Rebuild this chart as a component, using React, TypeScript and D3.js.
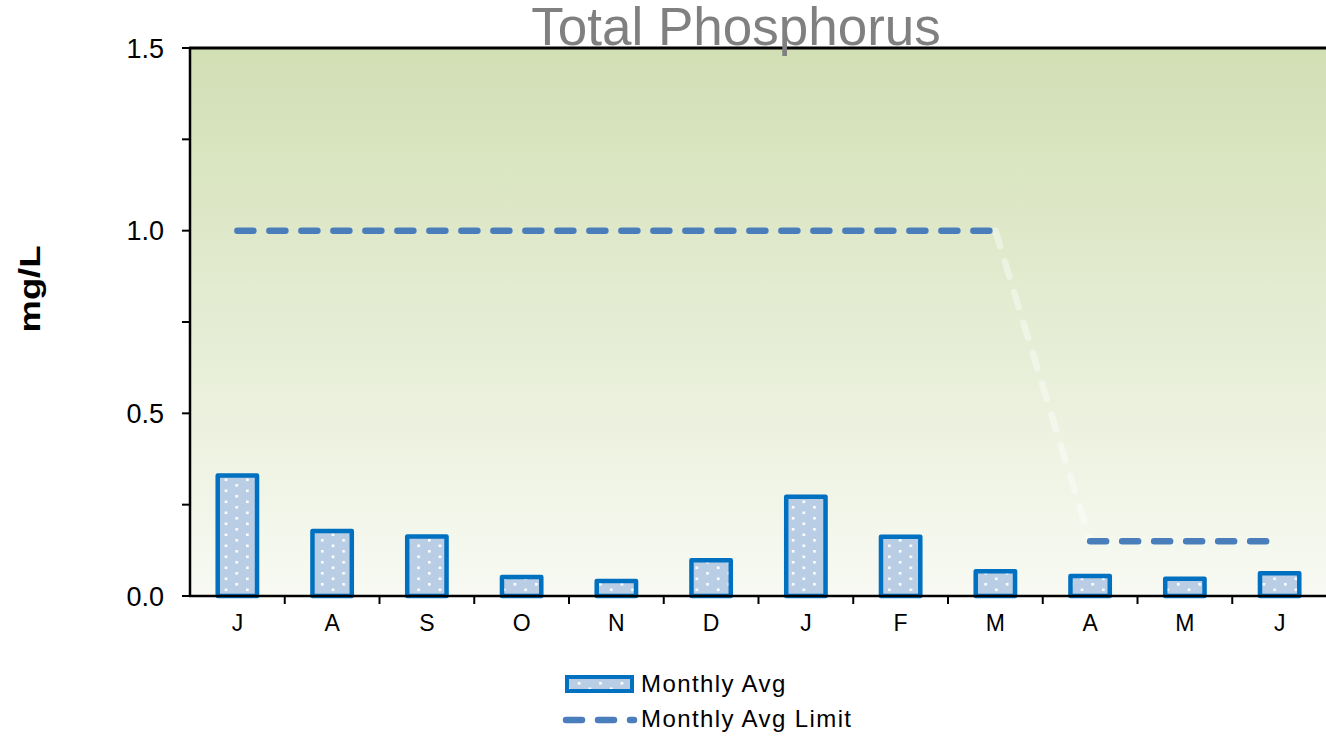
import React, { useEffect } from "react";
import * as d3 from "d3";

const months = ["J", "A", "S", "O", "N", "D", "J", "F", "M", "A", "M", "J"];
const monthlyAvg = [0.33, 0.178, 0.163, 0.052, 0.041, 0.098, 0.272, 0.162, 0.068, 0.055, 0.047, 0.062];
const monthlyLimit = [1, 1, 1, 1, 1, 1, 1, 1, 1, 0.15, 0.15, 0.15];
const yTicks = [0, 0.25, 0.5, 0.75, 1, 1.25, 1.5];
const yLabels = [0, 0.5, 1, 1.5];

const W = 1326;
const H = 736;
const M = { left: 190, top: 48, right: 1327, bottom: 596 };

export default function App() {
  useEffect(() => {
    document.body.style.margin = "0";
  }, []);

  const x = d3.scaleBand<number>().domain(months.map((_, i) => i)).range([M.left, M.right]).paddingInner(0).paddingOuter(0);
  const y = d3.scaleLinear().domain([0, 1.5]).range([M.bottom, M.top]);
  const bw = x.bandwidth();
  const cx = (i: number) => (x(i) as number) + bw / 2;
  const barW = bw * 0.415;

  const seg = (idx: number[]) =>
    d3
      .line<number>()
      .x((i) => cx(i))
      .y((i) => y(monthlyLimit[i]))(idx) as string;

  const upperIdx = monthlyLimit.map((_, i) => i).filter((i) => monthlyLimit[i] === monthlyLimit[0]);
  const lowerIdx = monthlyLimit.map((_, i) => i).filter((i) => i > upperIdx[upperIdx.length - 1]);
  const transIdx = [upperIdx[upperIdx.length - 1], lowerIdx[0]];

  const lineColor = "#4a7ebb";
  const font = "Arial, 'Liberation Sans', sans-serif";

  return (
    <svg width={W} height={H} style={{ display: "block", fontFamily: font }}>
      <defs>
        <linearGradient id="bg" x1="0" y1="0" x2="0" y2="1">
          <stop offset="0%" stopColor="#d2dfb4" />
          <stop offset="100%" stopColor="#f8faf3" />
        </linearGradient>
        <pattern id="dots" width={21.4} height={11} patternUnits="userSpaceOnUse">
          <rect width={21.4} height={11} fill="#b9cde5" />
          <rect x={0} y={0} width={2.6} height={2.6} fill="#ffffff" />
          <rect x={10.7} y={5.5} width={2.6} height={2.6} fill="#ffffff" />
        </pattern>
      </defs>
      <rect x={M.left} y={M.top} width={M.right - M.left} height={M.bottom - M.top} fill="url(#bg)" />

      {/* bars */}
      {monthlyAvg.map((v, i) => (
        <rect
          key={i}
          x={cx(i) - barW / 2}
          y={y(v)}
          width={barW}
          height={M.bottom - y(v)}
          fill="url(#dots)"
          stroke="#0070c0"
          strokeWidth={4.5}
          strokeLinejoin="round"
        />
      ))}

      {/* limit line */}
      <path d={seg(transIdx)} fill="none" stroke="#ffffff" strokeOpacity={0.4} strokeWidth={6.5} strokeDasharray="16,16" strokeLinecap="round" />
      <path d={seg(upperIdx)} fill="none" stroke={lineColor} strokeWidth={6.5} strokeDasharray="16,16" strokeLinecap="round" />
      <path d={seg(lowerIdx)} fill="none" stroke={lineColor} strokeWidth={6.5} strokeDasharray="16,16" strokeLinecap="round" />

      {/* axes */}
      <line x1={M.left} x2={M.left} y1={M.top} y2={M.bottom} stroke="#000" strokeWidth={2.5} />
      <line x1={M.left - 1} x2={W} y1={M.bottom} y2={M.bottom} stroke="#000" strokeWidth={2.5} />
      <line x1={M.left - 1} x2={W} y1={M.top} y2={M.top} stroke="#000" strokeWidth={3} />
      {yTicks.map((t) => (
        <line key={t} x1={M.left - 8} x2={M.left} y1={y(t)} y2={y(t)} stroke="#000" strokeWidth={2} />
      ))}
      {yLabels.map((t) => (
        <text key={t} x={164} y={y(t)} dy="0.36em" textAnchor="end" fontSize={27} fill="#000">
          {d3.format(".1f")(t)}
        </text>
      ))}
      {months.map((_, i) =>
        i > 0 ? <line key={"t" + i} x1={x(i)} x2={x(i)} y1={M.bottom} y2={M.bottom + 8} stroke="#000" strokeWidth={2} /> : null
      )}
      {months.map((m, i) => (
        <text key={"l" + i} x={cx(i)} y={631} textAnchor="middle" fontSize={23} fill="#000">
          {m}
        </text>
      ))}

      {/* y title */}
      <text
        transform="translate(40,289) rotate(-90)"
        textAnchor="middle"
        fontSize={30}
        fontWeight="bold"
        fill="#000"
        textLength={87}
        lengthAdjust="spacingAndGlyphs"
      >
        mg/L
      </text>

      {/* title */}
      <text x={736} y={45} textAnchor="middle" fontSize={53} fill="#808080">
        Total Phosphorus
      </text>

      {/* legend */}
      <rect x={567} y={677} width={65} height={14} fill="url(#dots)" stroke="#0070c0" strokeWidth={4} />
      <text x={641} y={692} fontSize={24} letterSpacing={1.4} fill="#000">
        Monthly Avg
      </text>
      <line x1={566} x2={634} y1={720} y2={720} stroke={lineColor} strokeWidth={6.5} strokeDasharray="16,16" strokeLinecap="round" />
      <text x={641} y={727} fontSize={24} letterSpacing={1.4} fill="#000">
        Monthly Avg Limit
      </text>
    </svg>
  );
}
